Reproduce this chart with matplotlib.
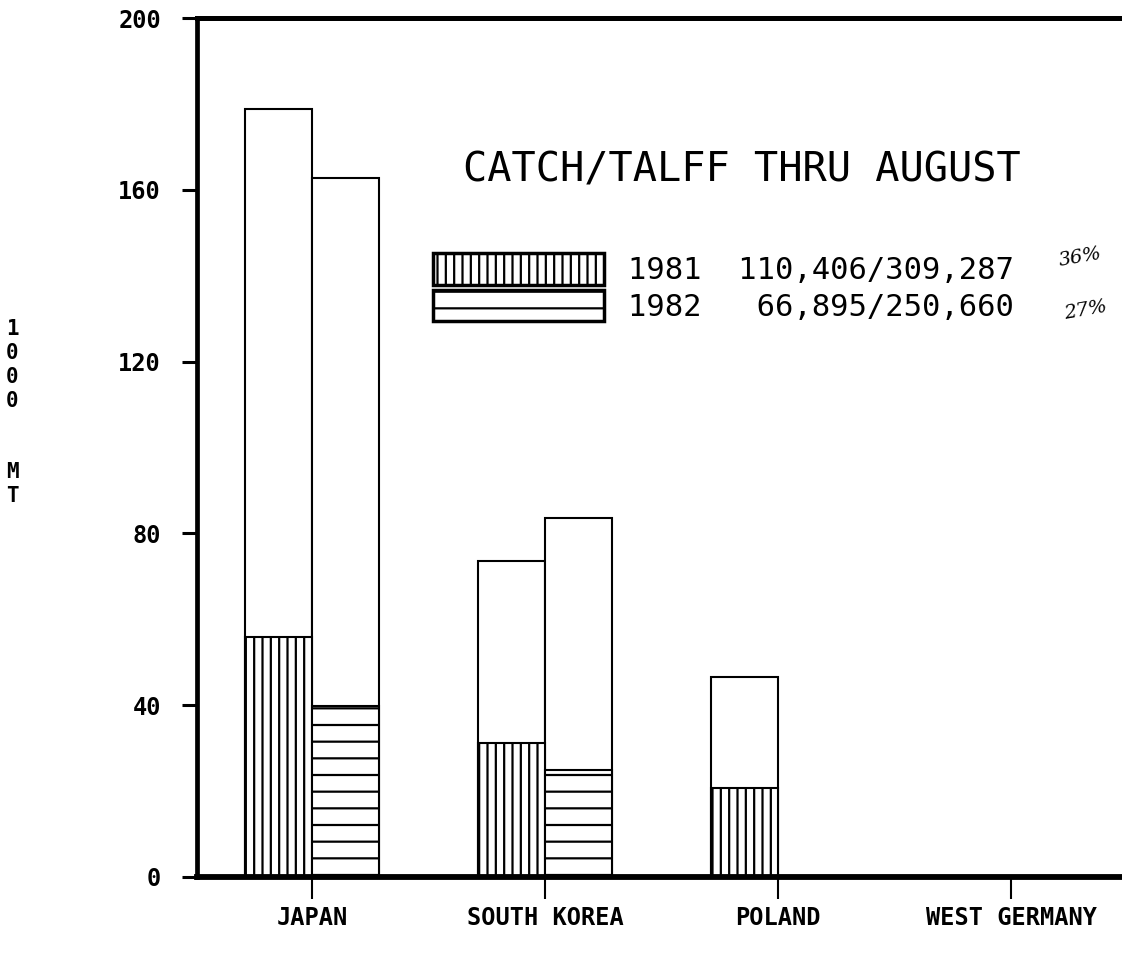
import numpy as np
import matplotlib.pyplot as plt
from matplotlib.patches import Patch

# Catch / TALFF thru August, 1000 MT
countries = ['JAPAN', 'SOUTH KOREA', 'POLAND', 'WEST GERMANY']
talff_1981 = [178.8, 73.6, 46.6, 0]
catch_1981 = [55.9, 31.2, 20.7, 0]
talff_1982 = [162.7, 83.6, 0, 0]
catch_1982 = [39.8, 24.9, 0, 0]
yticks = [0, 40, 80, 120, 160, 200]
legend_labels = ['1981  110,406/309,287', '1982   66,895/250,660']
notes = ['36%', '27%']

mono = 'DejaVu Sans Mono'
plt.rcParams['hatch.linewidth'] = 1.6

fig = plt.figure(figsize=(11.22, 9.58), dpi=100)
ax = fig.add_axes([0.1756, 0.0846, 0.8244, 0.8966])

x = np.arange(len(countries))
w = 0.288

# total TALFF bars (open) with the catch drawn hatched over them
ax.bar(x - w / 2, talff_1981, w, facecolor='white', edgecolor='black', lw=1.5)
ax.bar(x + w / 2, talff_1982, w, facecolor='white', edgecolor='black', lw=1.5)
ax.bar(x - w / 2, catch_1981, w, facecolor='white', edgecolor='black', lw=1.5, hatch='||')
ax.bar(x + w / 2, catch_1982, w, facecolor='white', edgecolor='black', lw=1.5, hatch='-')

ax.set_xlim(-0.494, 3.476)
ax.set_ylim(0, 200)

ax.set_xticks(x, countries)
ax.set_yticks(yticks, [str(v) for v in yticks])
ax.tick_params(axis='x', length=16, width=1.5, pad=5, labelsize=17)
ax.tick_params(axis='y', length=11, width=2.2, pad=15, labelsize=17)
for lab in ax.get_xticklabels() + ax.get_yticklabels():
    lab.set_family(mono)
    lab.set_weight('bold')

ax.spines['right'].set_visible(False)
ax.spines['top'].set_linewidth(3.6)
ax.spines['left'].set_linewidth(3.4)
ax.spines['bottom'].set_linewidth(4.2)

ax.text(0.589, 0.823, 'CATCH/TALFF THRU AUGUST', transform=ax.transAxes,
        ha='center', va='center', family=mono, fontsize=29)

handles = [Patch(facecolor='white', edgecolor='black', lw=2.5, hatch='||'),
           Patch(facecolor='white', edgecolor='black', lw=2.5, hatch='-')]
ax.legend(handles, legend_labels, loc='upper left', bbox_to_anchor=(0.255, 0.726),
          frameon=False, handlelength=5.6, handleheight=1.2, handletextpad=0.8,
          labelspacing=0.15, borderpad=0, borderaxespad=0,
          prop={'family': mono, 'size': 22})

# handwritten percentages
ax.text(0.930, 0.721, notes[0], transform=ax.transAxes, fontsize=14,
        style='italic', family='DejaVu Serif', rotation=10, ha='left', va='center')
ax.text(0.936, 0.660, notes[1], transform=ax.transAxes, fontsize=14,
        style='italic', family='DejaVu Serif', rotation=10, ha='left', va='center')

# stacked y label
fig.text(12 / 1122, 1 - 319 / 958, '1\n0\n0\n0\n\n\nM\nT', ha='center', va='top',
         family=mono, weight='bold', fontsize=15, linespacing=1.24)

fig.savefig('out.png', dpi=100)
